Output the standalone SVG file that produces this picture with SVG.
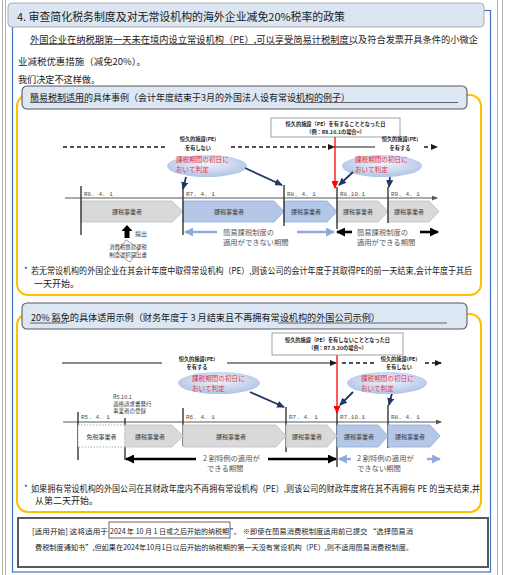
<svg xmlns="http://www.w3.org/2000/svg" width="507" height="575" viewBox="0 0 507 575">
<style>
.cn{font-family:"Noto Sans CJK SC","Noto Sans",sans-serif;fill:#1a1a1a}
.jp{font-family:"Noto Sans CJK JP","Noto Sans",sans-serif}
.lbl{font-size:6px;fill:#404040}
.dt{font-family:"Liberation Mono","Noto Sans CJK JP",monospace;font-size:6px;fill:#4d4d4d}
.pe{font-size:5.2px;font-weight:bold;fill:#1a1a1a}
.red{font-size:6.6px;fill:#e8303a}
.per{font-size:7.3px;fill:#595959}
.tick{stroke:#262626;stroke-width:1.3}
.axis{stroke:#595959;stroke-width:1.2;fill:none}
.gray{fill:#d9d9d9;stroke:#bfbfbf;stroke-width:0.8}
.blue{fill:#b4c7e7;stroke:#8faadc;stroke-width:0.8}
.navy{stroke:#203864;stroke-width:1.8;fill:none}
.dash{stroke:#1a1a1a;stroke-width:1.3;stroke-dasharray:4 3;fill:none}
.solid{stroke:#1a1a1a;stroke-width:1.2;fill:none}
.lb{stroke:#8faadc;stroke-width:2.4;fill:none}
.bk{stroke:#000;stroke-width:2.6;fill:none}
.ul{stroke:#404040;stroke-width:0.8}
.ell{fill:url(#eg)}
.gold{fill:none;stroke:#ffc000;stroke-width:2}
.tbox{fill:#dde7f3;stroke:#595959;stroke-width:1.1}
.pebox{fill:#fff;stroke:#8c8c8c;stroke-width:0.8}
</style>
<defs>
<radialGradient id="eg" cx="50%" cy="40%" r="60%">
<stop offset="0" stop-color="#eef3fb"/>
<stop offset="1" stop-color="#b0c4e6"/>
</radialGradient>
<marker id="mNavy" markerUnits="userSpaceOnUse" viewBox="0 0 8 7" refX="7" refY="3.5" markerWidth="8" markerHeight="7" orient="auto"><path d="M0,0 L8,3.5 L0,7 Z" fill="#203864"/></marker>
<marker id="mRed" markerUnits="userSpaceOnUse" viewBox="0 0 8 7" refX="7" refY="3.5" markerWidth="8" markerHeight="7" orient="auto"><path d="M0,0 L8,3.5 L0,7 Z" fill="#ff0000"/></marker>
<marker id="mBk" markerUnits="userSpaceOnUse" viewBox="0 0 9 9" refX="8" refY="4.5" markerWidth="9" markerHeight="9" orient="auto"><path d="M0,0 L9,4.5 L0,9 Z" fill="#000"/></marker>
<marker id="mLb" markerUnits="userSpaceOnUse" viewBox="0 0 9 9" refX="8" refY="4.5" markerWidth="9" markerHeight="9" orient="auto"><path d="M0,0 L9,4.5 L0,9 Z" fill="#8faadc"/></marker>
<marker id="mSm" markerUnits="userSpaceOnUse" viewBox="0 0 7 6" refX="6" refY="3" markerWidth="7" markerHeight="6" orient="auto"><path d="M0,0 L7,3 L0,6 Z" fill="#1a1a1a"/></marker>
<marker id="mAx" markerUnits="userSpaceOnUse" viewBox="0 0 6 5" refX="5" refY="2.5" markerWidth="6" markerHeight="5" orient="auto"><path d="M0,0 L6,2.5 L0,5 Z" fill="#595959"/></marker>
</defs>

<rect x="0" y="0" width="507" height="575" fill="#ffffff"/>
<g id="frame">
<line x1="2.5" y1="0" x2="2.5" y2="575" stroke="#b0b0b0"/>
<line x1="5.5" y1="0" x2="5.5" y2="575" stroke="#9db3dd"/>
<line x1="497.5" y1="0" x2="497.5" y2="575" stroke="#9db3dd"/>
<line x1="502.5" y1="0" x2="502.5" y2="575" stroke="#b0b0b0"/>
<rect x="12.5" y="10.5" width="478" height="561.5" fill="none" stroke="#4472c4" stroke-width="1.2"/>
</g>

<g id="header">
<rect x="8" y="3" width="476" height="24" rx="4" fill="#dce6f2" stroke="#a6a6a6" stroke-width="0.9"/>
<text class="cn" x="17" y="21" font-size="11" textLength="328" lengthAdjust="spacingAndGlyphs">4. 审查简化税务制度及对无常设机构的海外企业减免20%税率的政策</text>
</g>

<g id="intro">
<text class="cn" x="30" y="42.5" font-size="9.2" textLength="448" lengthAdjust="spacingAndGlyphs">外国企业在纳税期第一天未在境内设立常设机构（PE）,可以享受简易计税制度以及符合发票开具条件的小微企</text>
<line class="ul" x1="30" y1="44.5" x2="352" y2="44.5"/>
<text class="cn" x="18" y="65" font-size="9.2" textLength="128" lengthAdjust="spacingAndGlyphs">业减税优惠措施（减免20%）。</text>
<text class="cn" x="18" y="82.5" font-size="9.2" textLength="82" lengthAdjust="spacingAndGlyphs">我们决定不这样做。</text>
</g>

<g id="section1">
<rect class="gold" x="17" y="95" width="464" height="200" rx="11"/>
<rect class="tbox" x="22" y="86" width="445" height="23" rx="5"/>
<text class="cn" x="30" y="101" font-size="9.3" textLength="320" lengthAdjust="spacingAndGlyphs">簡易税制适用的具体事例（会计年度结束于3月的外国法人设有常设机构的例子）</text>
<line class="ul" x1="30" y1="102.5" x2="88" y2="102.5"/>
<line class="ul" x1="295" y1="102.5" x2="458" y2="102.5"/>
</g>

<g id="pebox1">
<rect class="pebox" x="271" y="118" width="129" height="19"/>
<text class="jp pe" x="335.5" y="125.5" text-anchor="middle">恒久的施設（PE）を有することとなった日</text>
<text class="jp pe" x="335.5" y="133.5" text-anchor="middle">（例：R8.10.1の場合=）</text>
</g>

<g id="status1">
<text class="jp pe" x="198" y="141" text-anchor="middle">恒久的施設(PE)</text>
<text class="jp pe" x="198" y="149.5" text-anchor="middle">を有しない</text>
<text class="jp pe" x="400" y="141" text-anchor="middle">恒久的施設(PE)</text>
<text class="jp pe" x="400" y="149.5" text-anchor="middle">を有する</text>
</g>

<g id="ellipses1">
<ellipse class="ell" cx="207" cy="166" rx="40" ry="11"/>
<text class="jp red" x="176" y="162">課税期間の初日に</text>
<text class="jp red" x="176" y="172">おいて判定</text>
<ellipse class="ell" cx="382" cy="166" rx="40" ry="11"/>
<text class="jp red" x="355" y="162">課税期間の初日に</text>
<text class="jp red" x="355" y="172">おいて判定</text>
</g>

<g id="timeline1">
<path class="gray" d="M81,201 H172 L183,211.5 L172,222 H81 Z"/>
<path class="blue" d="M183,201 H274 L284,211.5 L274,222 H183 Z"/>
<path class="blue" d="M284,201 H327 L337,211.5 L327,222 H284 Z"/>
<path class="gray" d="M337,201 H378 L388,211.5 L378,222 H337 Z"/>
<path class="gray" d="M388,201 H429 L439,211.5 L429,222 H388 Z"/>
<text class="jp lbl" x="127" y="214" text-anchor="middle">課税事業者</text>
<text class="jp lbl" x="229" y="214" text-anchor="middle">課税事業者</text>
<text class="jp lbl" x="306" y="214" text-anchor="middle">課税事業者</text>
<text class="jp lbl" x="358" y="214" text-anchor="middle">課税事業者</text>
<text class="jp lbl" x="409" y="214" text-anchor="middle">課税事業者</text>
<text class="dt" x="84" y="196">R6. 4. 1</text>
<text class="dt" x="186" y="196">R7. 4. 1</text>
<text class="dt" x="287" y="196">R8. 4. 1</text>
<text class="dt" x="340" y="196">R8.10.1</text>
<text class="dt" x="391" y="196">R9. 4. 1</text>
<text class="jp lbl" x="135" y="236" font-size="6.4">提出</text>
<g transform="rotate(35 128 251)"><rect x="120" y="243" width="16" height="16" fill="#fff" stroke="#808080" stroke-width="0.7"/></g>
<text class="jp" x="128" y="249" font-size="5.4" fill="#404040" text-anchor="middle">消費税簡易課税</text>
<text class="jp" x="128" y="257" font-size="5.4" fill="#404040" text-anchor="middle">制度選択届出書</text>
<text class="jp per" x="223" y="235">簡易課税制度の</text>
<text class="jp per" x="223" y="245">適用ができない期間</text>
<text class="jp per" x="357" y="235">簡易課税制度の</text>
<text class="jp per" x="357" y="245">適用ができる期間</text>
</g>

<g id="connectors">
<line class="axis" x1="65" y1="198" x2="437" y2="198" marker-end="url(#mAx)"/>
<line class="tick" x1="81" y1="186" x2="81" y2="235"/>
<line class="tick" x1="183" y1="182" x2="183" y2="235"/>
<line class="tick" x1="284" y1="185" x2="284" y2="226"/>
<line class="tick" x1="337" y1="187" x2="337" y2="229"/>
<line class="tick" x1="388" y1="187" x2="388" y2="223"/>
<line class="dash" x1="63" y1="147" x2="168" y2="147"/>
<line class="dash" x1="231" y1="147" x2="334" y2="147" marker-end="url(#mSm)"/>
<line class="solid" x1="334" y1="147" x2="375" y2="147"/>
<line class="dash" x1="424" y1="147" x2="437" y2="147" marker-end="url(#mSm)"/>
<line x1="335" y1="137" x2="335" y2="188" stroke="#ff0000" stroke-width="1.3" marker-end="url(#mRed)"/>
<line class="navy" x1="186" y1="177" x2="183" y2="189" marker-end="url(#mNavy)"/>
<line class="navy" x1="245" y1="168" x2="282" y2="185" marker-end="url(#mNavy)"/>
<line class="navy" x1="353" y1="172" x2="339" y2="185" marker-end="url(#mNavy)"/>
<line class="navy" x1="390" y1="177" x2="389" y2="187" marker-end="url(#mNavy)"/>
<path d="M124.5,238 V231 H121.5 L127,225 L132.5,231 H129.5 V238 Z" fill="#000"/>
<line class="lb" x1="217" y1="232" x2="185" y2="232" marker-end="url(#mLb)"/>
<line class="lb" x1="297" y1="232" x2="334" y2="232" marker-end="url(#mLb)"/>
<line class="bk" x1="352" y1="232" x2="337" y2="232" marker-end="url(#mBk)"/>
<line class="bk" x1="420" y1="232" x2="438" y2="232" marker-end="url(#mBk)"/>
<line class="axis" x1="63" y1="422" x2="441" y2="422" marker-end="url(#mAx)"/>
<line class="tick" x1="78" y1="412" x2="78" y2="460"/>
<line class="tick" x1="125" y1="418" x2="125" y2="460"/>
<line class="tick" x1="183" y1="408" x2="183" y2="446"/>
<line class="tick" x1="286" y1="407" x2="286" y2="452"/>
<line class="tick" x1="337" y1="410" x2="337" y2="467"/>
<line class="tick" x1="388" y1="405" x2="388" y2="448"/>
<line class="solid" x1="62" y1="363" x2="162" y2="363"/>
<line class="solid" x1="227" y1="363" x2="336" y2="363" marker-end="url(#mSm)"/>
<line class="dash" x1="342" y1="363" x2="374" y2="363"/>
<line class="dash" x1="425" y1="363" x2="441" y2="363" marker-end="url(#mSm)"/>
<line x1="337" y1="355" x2="337" y2="413" stroke="#ff0000" stroke-width="1.3" marker-end="url(#mRed)"/>
<line class="navy" x1="250" y1="392" x2="284" y2="407" marker-end="url(#mNavy)"/>
<line class="navy" x1="353" y1="392" x2="340" y2="405" marker-end="url(#mNavy)"/>
<line class="navy" x1="392" y1="393" x2="389" y2="405" marker-end="url(#mNavy)"/>
<line class="bk" x1="196" y1="459" x2="126" y2="459" marker-end="url(#mBk)"/>
<line class="bk" x1="268" y1="459" x2="336" y2="459" marker-end="url(#mBk)"/>
<line class="lb" x1="351" y1="459" x2="339" y2="459" marker-end="url(#mLb)"/>
<line class="lb" x1="427" y1="459" x2="440" y2="459" marker-end="url(#mLb)"/>
</g>

<g id="note1">
<text class="cn" x="24" y="273" font-size="8">*</text>
<text class="cn" x="31" y="274" font-size="8.6" textLength="441" lengthAdjust="spacingAndGlyphs">若无常设机构的外国企业在其会计年度中取得常设机构（PE）,则该公司的会计年度于其取得PE的前一天结束,会计年度于其后</text>
<text class="cn" x="34" y="287" font-size="9">一天开始。</text>
</g>

<g id="section2">
<rect class="gold" x="17" y="314" width="464" height="198" rx="11"/>
<rect class="tbox" x="22" y="303" width="445" height="26" rx="5"/>
<text class="cn" x="31" y="321" font-size="9.6" textLength="349" lengthAdjust="spacingAndGlyphs">20% 豁免的具体适用示例（财务年度于 3 月结束且不再拥有常设机构的外国公司示例）</text>
<line class="ul" x1="30" y1="323" x2="67" y2="323"/>
<line class="ul" x1="278" y1="323" x2="447" y2="323"/>
</g>

<g id="pebox2">
<rect class="pebox" x="272" y="333" width="131" height="22"/>
<text class="jp pe" x="337.5" y="342" text-anchor="middle">恒久的施設（PE）を有しないこととなった日</text>
<text class="jp pe" x="337.5" y="350" text-anchor="middle">（例：R7.9.30の場合=）</text>
</g>

<g id="status2">
<text class="jp pe" x="197" y="361" text-anchor="middle">恒久的施設(PE)</text>
<text class="jp pe" x="197" y="369" text-anchor="middle">を有する</text>
<text class="jp pe" x="399" y="361" text-anchor="middle">恒久的施設(PE)</text>
<text class="jp pe" x="399" y="369" text-anchor="middle">を有しない</text>
</g>

<g id="ellipses2">
<ellipse class="ell" cx="219" cy="383" rx="41" ry="11"/>
<text class="jp red" x="192" y="381">課税期間の初日に</text>
<text class="jp red" x="192" y="391">おいて判定</text>
<ellipse class="ell" cx="387" cy="383" rx="40" ry="11"/>
<text class="jp red" x="361" y="381">課税期間の初日に</text>
<text class="jp red" x="361" y="391">おいて判定</text>
</g>

<g id="timeline2">
<text class="jp" x="113" y="398.5" font-size="5.5" fill="#404040">R5.10.1</text>
<text class="jp" x="113" y="405.5" font-size="5.5" fill="#404040">適格請求書発行</text>
<text class="jp" x="113" y="412.5" font-size="5.5" fill="#404040">事業者の登録</text>
<rect x="78" y="425" width="47" height="22" fill="#fff" stroke="#8c8c8c" stroke-width="0.7" stroke-dasharray="1.5 1.5"/>
<path class="gray" d="M125,425 H172 L183,436 L172,447 H125 Z"/>
<path class="gray" d="M183,425 H276 L286,436 L276,447 H183 Z"/>
<path class="gray" d="M286,425 H327 L337,436 L327,447 H286 Z"/>
<path class="blue" d="M337,425 H378 L388,436 L378,447 H337 Z"/>
<path class="blue" d="M388,425 H430 L440,436 L430,447 H388 Z"/>
<text class="jp lbl" x="101.5" y="438.5" text-anchor="middle">免税事業者</text>
<text class="jp lbl" x="150" y="438.5" text-anchor="middle">課税事業者</text>
<text class="jp lbl" x="231" y="438.5" text-anchor="middle">課税事業者</text>
<text class="jp lbl" x="307" y="438.5" text-anchor="middle">課税事業者</text>
<text class="jp lbl" x="359" y="438.5" text-anchor="middle">課税事業者</text>
<text class="jp lbl" x="410" y="438.5" text-anchor="middle">課税事業者</text>
<text class="dt" x="81" y="419">R5. 4. 1</text>
<text class="dt" x="186" y="419">R6. 4. 1</text>
<text class="dt" x="289" y="419">R7. 4. 1</text>
<text class="dt" x="340" y="419">R7.10.1</text>
<text class="dt" x="391" y="419">R8. 4. 1</text>
<text class="jp per" x="203" y="461">2 割特例の適用が</text>
<text class="jp per" x="207" y="471">できる期間</text>
<text class="jp per" x="357" y="461">2 割特例の適用が</text>
<text class="jp per" x="357" y="471">できない期間</text>
</g>

<g id="note2">
<text class="cn" x="24" y="491" font-size="8">*</text>
<text class="cn" x="31" y="492" font-size="8.6" textLength="449" lengthAdjust="spacingAndGlyphs">如果拥有常设机构的外国公司在其财政年度内不再拥有常设机构（PE）,则该公司的财政年度将在其不再拥有 PE 的当天结束,并</text>
<text class="cn" x="35" y="504" font-size="9">从第二天开始。</text>
</g>

<g id="footer">
<rect x="18" y="518" width="470" height="49" fill="#fff" stroke="#595959" stroke-width="2"/>
<rect x="109" y="522" width="121" height="16" fill="none" stroke="#404040" stroke-width="0.8"/>
<line class="ul" x1="247" y1="538.5" x2="330" y2="538.5"/>
<text class="cn" x="32" y="534" font-size="7.4" textLength="76" lengthAdjust="spacingAndGlyphs">[适用开始] 这将适用于</text>
<text class="cn" x="110" y="534" font-size="7.4" textLength="119" lengthAdjust="spacingAndGlyphs">2024 年 10 月 1 日或之后开始的纳税期</text>
<text class="cn" x="230" y="534" font-size="7.4" textLength="183" lengthAdjust="spacingAndGlyphs">”。 ※即使在簡易消费税制度适用前已提交 “选择簡易消</text>
<text class="cn" x="35" y="550" font-size="7.4" textLength="378" lengthAdjust="spacingAndGlyphs">费税制度通知书”,但如果在2024年10月1日以后开始的纳税期的第一天没有常设机构（PE）,则不适用簡易消费税制度。</text>
</g>
</svg>
